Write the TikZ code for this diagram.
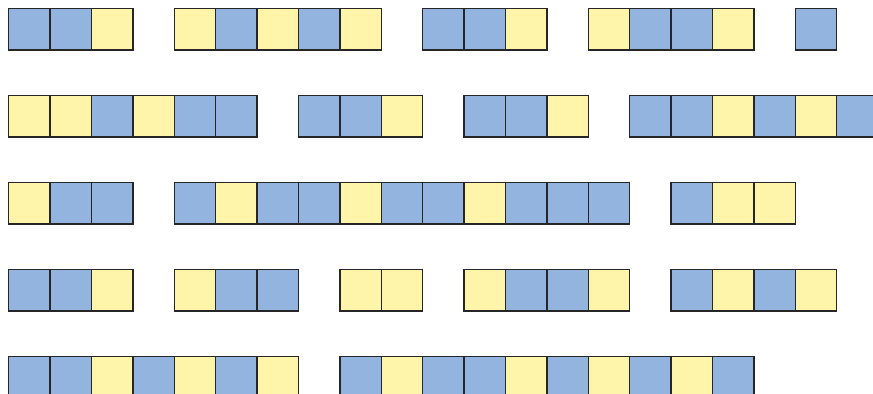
\documentclass[tikz,border=0pt]{standalone}
\usepackage{xcolor}
\usepackage{tikz}
\usetikzlibrary{positioning}

\definecolor{cellblue}{RGB}{148,180,224}
\definecolor{cellyellow}{RGB}{255,245,170}

\begin{document}
\begin{tikzpicture}[
        sq/.style={
            rectangle, draw=black!85, line width=1pt,
            minimum size=1cm, inner sep=0pt, anchor=north west
        },
        sqB/.style={sq, fill=cellblue},
        sqY/.style={sq, fill=cellyellow}
    ]
        \clip (-0.193, 0.193) rectangle (20.894, -9.324);

        % row 1
        \foreach \c/\f in {0/B,1/B,2/Y, 4/Y,5/B,6/Y,7/B,8/Y, 10/B,11/B,12/Y,
                           14/Y,15/B,16/B,17/Y, 19/B}
            \node[sq\f] (ra\c) at (\c, 0) {};

        % row 2
        \foreach \c/\f in {0/Y,1/Y,2/B,3/Y,4/B,5/B, 7/B,8/B,9/Y, 11/B,12/B,13/Y,
                           15/B,16/B,17/Y,18/B,19/Y,20/B}
            \node[sq\f] (rb\c) at (\c, -2.1) {};

        % row 3
        \foreach \c/\f in {0/Y,1/B,2/B, 4/B,5/Y,6/B,7/B,8/Y,9/B,10/B,11/Y,12/B,13/B,14/B,
                           16/B,17/Y,18/Y}
            \node[sq\f] (rc\c) at (\c, -4.2) {};

        % row 4
        \foreach \c/\f in {0/B,1/B,2/Y, 4/Y,5/B,6/B, 8/Y,9/Y, 11/Y,12/B,13/B,14/Y,
                           16/B,17/Y,18/B,19/Y}
            \node[sq\f] (rd\c) at (\c, -6.3) {};

        % row 5
        \foreach \c/\f in {0/B,1/B,2/Y,3/B,4/Y,5/B,6/Y,
                           8/B,9/Y,10/B,11/B,12/Y,13/B,14/Y,15/B,16/Y,17/B}
            \node[sq\f] (re\c) at (\c, -8.4) {};
    \end{tikzpicture}
\end{document}
